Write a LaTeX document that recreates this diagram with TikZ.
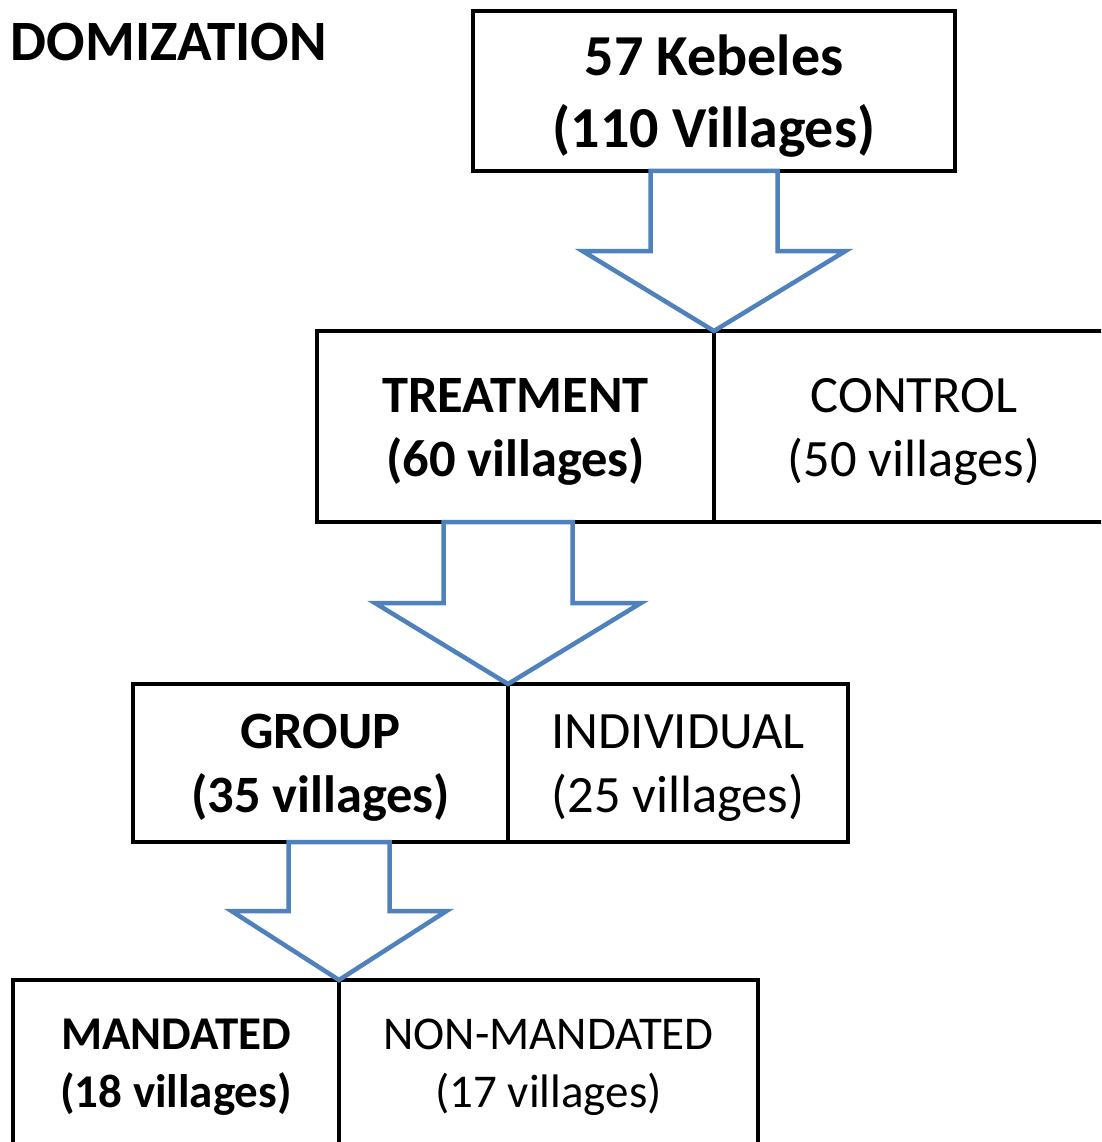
\documentclass[tikz,border=0pt]{standalone}
\usepackage{fontspec}
\setmainfont{Carlito}
\usetikzlibrary{positioning,calc}
\definecolor{arrowblue}{HTML}{4F81BD}

% strut in the first line, pushes the text down a little
\newcommand{\padtop}[1]{\rule{0pt}{#1em}}

% block arrow from the bottom of one box down to a tip point
% #1 upper node, #2 tip, #3 half shaft width, #4 half head width
\newcommand{\splitarrow}[4]{%
  \draw[blockarrow] let \p1=(#2), \p2=(#1.south) in
    (\x1-#3,\y2) -- (\x1+#3,\y2) -- (\x1+#3,{(\y1+\y2)/2})
    -- (\x1+#4,{(\y1+\y2)/2}) -- (\x1,\y1) -- (\x1-#4,{(\y1+\y2)/2})
    -- (\x1-#3,{(\y1+\y2)/2}) -- cycle;}

\begin{document}
\begin{tikzpicture}[x=1pt,y=-1pt,
  box/.style={rectangle,draw,line width=4pt,inner sep=0pt,outer sep=0pt,align=center},
  toptext/.style={font=\fontsize{58}{72}\selectfont\bfseries},
  midtext/.style={font=\fontsize{52.5}{64}\selectfont},
  lowtext/.style={font=\fontsize{47}{58}\selectfont},
  blockarrow/.style={draw=arrowblue,fill=white,line width=4.5pt,line join=miter}]
\path[use as bounding box,clip] (0,0) rectangle (1101,1142);

\node[anchor=base east,inner sep=0pt,font=\fontsize{57}{68}\selectfont\bfseries] (title) at (327,61) {DOMIZATION};

\node[box,toptext,minimum width=482pt,minimum height=160pt] (keb) at (714,91)
  {\padtop{0.86}57 Kebeles\\(110 Villages)};

\node[box,midtext,minimum width=397pt,minimum height=191pt] (treat) at (515.5,426.5)
  {\padtop{0.85}\textbf{TREATMENT}\\\textbf{(60 villages)}};
\node[box,midtext,minimum width=400pt,minimum height=191pt,right=0pt of treat] (ctrl)
  {\padtop{0.85}CONTROL\\(50 villages)};

\node[box,midtext,minimum width=375pt,minimum height=158pt] (grp) at (320.5,763)
  {\padtop{0.85}\textbf{GROUP}\\\textbf{(35 villages)}};
\node[box,midtext,minimum width=340pt,minimum height=158pt,right=0pt of grp] (indiv)
  {\padtop{0.85}INDIVIDUAL\\(25 villages)};

\node[box,lowtext,minimum width=326pt,minimum height=170pt] (mand) at (176,1065)
  {\padtop{0.73}\textbf{MANDATED}\\\textbf{(18 villages)}};
\node[box,lowtext,minimum width=419pt,minimum height=170pt,right=0pt of mand] (nonmand)
  {\padtop{0.73}NON-MANDATED\\(17 villages)};

\splitarrow{keb}{treat.north east}{63.5pt}{131.5pt}
\splitarrow{treat}{grp.north east}{64.5pt}{133pt}
\splitarrow{grp}{mand.north east}{50.5pt}{107.5pt}
\end{tikzpicture}
\end{document}
